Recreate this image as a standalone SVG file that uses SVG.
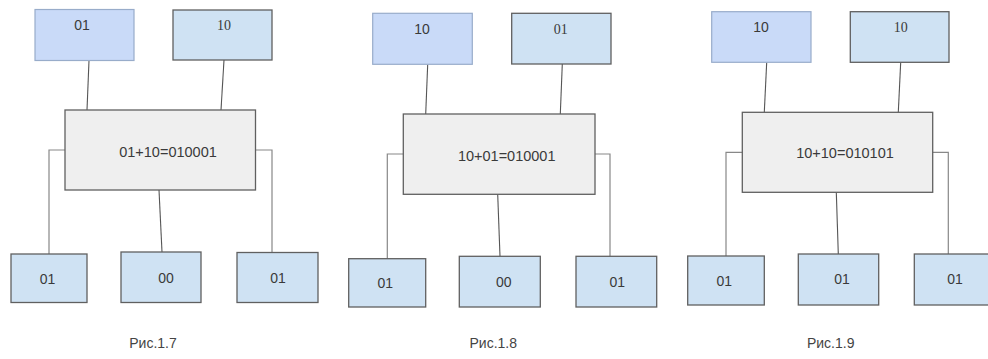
<svg xmlns="http://www.w3.org/2000/svg" width="988" height="359" viewBox="0 0 988 359">
<style>
.in1{fill:#c9daf8;stroke:#98acca;stroke-width:1.2}
.in2{fill:#cfe2f3;stroke:#606060;stroke-width:1.3}
.out{fill:#cfe2f3;stroke:#606060;stroke-width:1.3}
.mid{fill:#efefef;stroke:#606060;stroke-width:1.3}
.t{font-family:"Liberation Sans",Arial,sans-serif;font-size:14px;fill:#3a3a3a;text-anchor:middle;dominant-baseline:central}
.ts{font-family:"Liberation Serif","Times New Roman",serif;font-size:14px;fill:#3a3a3a;text-anchor:middle;dominant-baseline:central}
.tc{font-family:"Liberation Sans",Arial,sans-serif;font-size:14.5px;fill:#3a3a3a;text-anchor:middle;dominant-baseline:central}
.cap{font-family:"Liberation Sans",Arial,sans-serif;font-size:14px;fill:#444;text-anchor:middle;dominant-baseline:central}
.c{fill:none;stroke:#555;stroke-width:1.1}
.c2{fill:none;stroke:#888;stroke-width:1.2}
</style>
<g id="connectors">
<path class="c" d="M89 60.5 L87 110"/>
<path class="c" d="M224 60 L221 110"/>
<path class="c2" d="M65 150 H49 V254"/>
<path class="c2" d="M256 150 H272 V252.5"/>
<path class="c" d="M159 190 L162 252"/>
<path class="c" d="M427.7 64.3 L425.7 114"/>
<path class="c" d="M562.3 64 L560.3 114"/>
<path class="c2" d="M403.3 154 H387.3 V258.7"/>
<path class="c2" d="M595 154 H610 V256.3"/>
<path class="c" d="M497.7 194.3 L500 256.3"/>
<path class="c" d="M766.7 62.3 L764.3 112.3"/>
<path class="c" d="M900.7 62.3 L898.3 112.3"/>
<path class="c2" d="M742.3 152.3 H726 V256"/>
<path class="c2" d="M932.7 152.3 H948.3 V254"/>
<path class="c" d="M836.3 192.3 L838.3 254"/>
</g>
<g id="p1-in1"><rect class="in1" x="35" y="9.5" width="99" height="51"/><text class="t" x="82" y="25">01</text></g>
<g id="p1-in2"><rect class="in2" x="173" y="10" width="99" height="50"/><text class="ts" x="224" y="25">10</text></g>
<g id="p1-mid"><rect class="mid" x="65" y="110" width="190.5" height="80"/><text class="tc" x="168" y="152">01+10=010001</text></g>
<g id="p1-o1"><rect class="out" x="11" y="254" width="76" height="48.5"/><text class="t" x="47.5" y="279">01</text></g>
<g id="p1-o2"><rect class="out" x="121" y="252" width="80" height="50.5"/><text class="t" x="166" y="277.5">00</text></g>
<g id="p1-o3"><rect class="out" x="237" y="252.5" width="81" height="50"/><text class="t" x="278" y="278">01</text></g>
<text class="cap" x="153" y="343">Рис.1.7</text>
<g id="p2-in1"><rect class="in1" x="372.7" y="13.3" width="99.6" height="51"/><text class="t" x="422" y="29">10</text></g>
<g id="p2-in2"><rect class="in2" x="511.7" y="13.3" width="99.3" height="50.7"/><text class="ts" x="560.7" y="29">01</text></g>
<g id="p2-mid"><rect class="mid" x="403.3" y="114" width="191.7" height="80.3"/><text class="tc" x="506.7" y="155.7">10+01=010001</text></g>
<g id="p2-o1"><rect class="out" x="348.7" y="258.7" width="77" height="48.3"/><text class="t" x="385.3" y="283.3">01</text></g>
<g id="p2-o2"><rect class="out" x="459.3" y="256.3" width="81" height="50.7"/><text class="t" x="503.7" y="281.7">00</text></g>
<g id="p2-o3"><rect class="out" x="576" y="256.3" width="80.7" height="50.7"/><text class="t" x="617.3" y="281.7">01</text></g>
<text class="cap" x="493.3" y="343">Рис.1.8</text>
<g id="p3-in1"><rect class="in1" x="711.7" y="11.7" width="99.3" height="50.6"/><text class="t" x="761" y="27">10</text></g>
<g id="p3-in2"><rect class="in2" x="850.3" y="11.7" width="98.7" height="50.6"/><text class="ts" x="900.7" y="27">10</text></g>
<g id="p3-mid"><rect class="mid" x="742.3" y="112.3" width="190.4" height="80"/><text class="tc" x="845" y="153.3">10+10=010101</text></g>
<g id="p3-o1"><rect class="out" x="687.7" y="256" width="76.6" height="49"/><text class="t" x="724.3" y="280.7">01</text></g>
<g id="p3-o2"><rect class="out" x="798.3" y="254" width="80.4" height="51"/><text class="t" x="842" y="279.3">01</text></g>
<g id="p3-o3"><rect class="out" x="914.3" y="254" width="80" height="51"/><text class="t" x="955" y="279.3">01</text></g>
<text class="cap" x="830.7" y="343">Рис.1.9</text>
</svg>
